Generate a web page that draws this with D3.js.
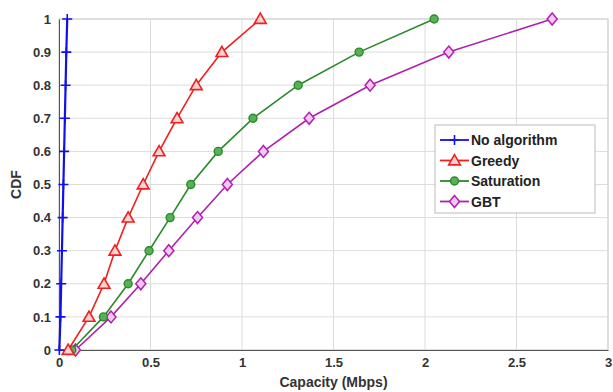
<!DOCTYPE html>
<html><head><meta charset="utf-8">
<script src="https://cdn.jsdelivr.net/npm/d3@7"></script>
<style>body{margin:0;background:#fff}svg{font-family:"Liberation Sans",Arial,sans-serif}</style>
</head><body><svg id="c" width="613" height="392"></svg>
<script>
const cdf = [0,0.1,0.2,0.3,0.4,0.5,0.6,0.7,0.8,0.9,1];
const noAlgorithm = [0.002,0.008,0.012,0.016,0.020,0.024,0.028,0.032,0.036,0.040,0.045];
const greedy = [0.05,0.164,0.246,0.306,0.378,0.46,0.547,0.645,0.75,0.89,1.10];
const saturation = [0.07,0.243,0.378,0.492,0.607,0.72,0.87,1.06,1.307,1.64,2.05];
const gbt = [0.09,0.284,0.447,0.60,0.757,0.92,1.117,1.367,1.70,2.13,2.695];
const seriesNames = ["No algorithm","Greedy","Saturation","GBT"];
const xTicks = [0,0.5,1,1.5,2,2.5,3];
const yTicks = [0,0.1,0.2,0.3,0.4,0.5,0.6,0.7,0.8,0.9,1];

const svg = d3.select("#c");
const L=59, R=608, T=19, B=350;
const x = d3.scaleLinear().domain([0,3]).range([L,R]);
const y = d3.scaleLinear().domain([0,1]).range([B,T]);

// grid
svg.append("g").selectAll("line.v").data(xTicks).join("line")
  .attr("x1",d=>x(d)).attr("x2",d=>x(d)).attr("y1",T).attr("y2",B)
  .attr("stroke","#dcdcdc").attr("stroke-width",1);
svg.append("g").selectAll("line.h").data(yTicks).join("line")
  .attr("x1",L).attr("x2",R).attr("y1",d=>y(d)).attr("y2",d=>y(d))
  .attr("stroke","#dcdcdc").attr("stroke-width",1);
svg.append("rect").attr("x",L).attr("y",T).attr("width",R-L).attr("height",B-T)
  .attr("fill","none").attr("stroke","#cfcfcf");

// axes
const xAxis = svg.append("g").attr("transform",`translate(0,${B})`)
  .call(d3.axisBottom(x).tickValues(xTicks).tickFormat(d3.format("")).tickSize(0).tickPadding(8));
const yAxis = svg.append("g").attr("transform",`translate(${L},0)`)
  .call(d3.axisLeft(y).tickValues(yTicks).tickFormat(d=>d===0?"0":(d===1?"1":d3.format(".1f")(d))).tickSize(0).tickPadding(8));
[xAxis,yAxis].forEach(a=>{
  a.select(".domain").attr("stroke","#555");
  a.selectAll("text").attr("font-size",13).attr("font-weight","bold").attr("fill","#333")
   .attr("font-family","\"Liberation Sans\",Arial,sans-serif");
});

svg.append("text").attr("x",(L+R)/2).attr("y",387).attr("text-anchor","middle")
  .attr("font-size",14).attr("font-weight","bold").attr("fill","#333").text("Capacity (Mbps)");
svg.append("text").attr("transform",`translate(21,${(T+B)/2}) rotate(-90)`).attr("text-anchor","middle")
  .attr("font-size",14).attr("font-weight","bold").attr("fill","#333").text("CDF");

const series = [
  {name:seriesNames[0], xs:noAlgorithm, color:"#1010ee", fill:"none", shape:"plus"},
  {name:seriesNames[1], xs:greedy, color:"#ee2020", fill:"#ffd0d0", shape:"tri"},
  {name:seriesNames[2], xs:saturation, color:"#2a8a2a", fill:"#58b058", shape:"circ"},
  {name:seriesNames[3], xs:gbt, color:"#b020b0", fill:"#f4c8f4", shape:"dia"}
];
const line = d3.line().x(d=>x(d[0])).y(d=>y(d[1]));

function marker(g, shape, color, fill, px, py){
  if(shape==="plus"){
    g.append("path").attr("d",`M${px-5},${py}H${px+5}M${px},${py-5}V${py+5}`).attr("stroke",color).attr("stroke-width",1.6);
  } else if(shape==="tri"){
    g.append("path").attr("d",d3.symbol(d3.symbolTriangle,60)()).attr("transform",`translate(${px},${py+1})`)
      .attr("fill",fill).attr("stroke",color).attr("stroke-width",1.6);
  } else if(shape==="circ"){
    g.append("circle").attr("cx",px).attr("cy",py).attr("r",4)
      .attr("fill",fill).attr("stroke",color).attr("stroke-width",1.4);
  } else {
    g.append("path").attr("d",`M${px},${py-6}L${px+5},${py}L${px},${py+6}L${px-5},${py}Z`)
      .attr("fill",fill).attr("stroke",color).attr("stroke-width",1.5);
  }
}

series.slice().reverse().forEach(s=>{
  const pts = s.xs.map((v,i)=>[v,cdf[i]]);
  const g = svg.append("g");
  g.append("path").datum(pts).attr("d",line).attr("fill","none")
    .attr("stroke",s.color).attr("stroke-width",s.shape==="plus"?2.2:1.6);
  pts.forEach(p=>marker(g,s.shape,s.color,s.fill,x(p[0]),y(p[1])));
});

// legend
const lg = svg.append("g").attr("transform","translate(435,125)");
lg.append("rect").attr("width",160).attr("height",88).attr("fill","#fff").attr("stroke","#bbb");
series.forEach((s,i)=>{
  const cy = 15 + i*20.5;
  lg.append("line").attr("x1",5).attr("x2",34).attr("y1",cy).attr("y2",cy).attr("stroke",s.color).attr("stroke-width",1.8);
  marker(lg,s.shape,s.color,s.fill,19.5,cy);
  lg.append("text").attr("x",36).attr("y",cy+5).attr("font-size",14).attr("font-weight","bold")
    .attr("fill","#222").text(s.name);
});
</script></body></html>
